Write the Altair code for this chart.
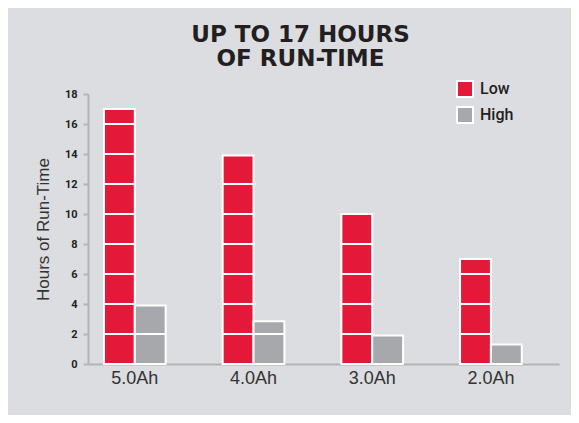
import altair as alt
import pandas as pd

categories = ["5.0Ah", "4.0Ah", "3.0Ah", "2.0Ah"]
low_hours = [17, 13.9, 10, 7]
high_hours = [3.9, 2.85, 1.9, 1.3]
levels = ["Low", "High"]
colors = ["#e4193a", "#a7a8ab"]
y_ticks = [0, 2, 4, 6, 8, 10, 12, 14, 16, 18]

rows = []
for cat, lo, hi in zip(categories, low_hours, high_hours):
    for level, v in (("Low", lo), ("High", hi)):
        s = 0.0
        while s < v - 1e-9:
            e = min(s + 2, v)
            rows.append({"battery": cat, "level": level, "y0": s, "y1": e})
            s = e
df = pd.DataFrame(rows)

bars = alt.Chart(df).mark_bar(stroke="white", strokeWidth=2).encode(
    x=alt.X(
        "battery:N",
        sort=categories,
        scale=alt.Scale(paddingInner=0.48, paddingOuter=0.224, align=0.3),
        axis=alt.Axis(
            title=None, labelAngle=0, ticks=False, labelFontSize=18,
            labelColor="#333333", labelFont="Liberation Sans", labelPadding=5,
            domainColor="#b3b4b6", domainWidth=2,
        ),
    ),
    xOffset=alt.XOffset("level:N", sort=levels,
                        scale=alt.Scale(paddingInner=0, paddingOuter=0)),
    y=alt.Y(
        "y0:Q",
        scale=alt.Scale(domain=[0, 18], nice=False),
        axis=alt.Axis(
            title="Hours of Run-Time", values=y_ticks, grid=False,
            titleFontSize=17, titleFont="Liberation Sans", titleFontWeight="normal",
            titleColor="#333333", titlePadding=12,
            labelFontSize=11, labelFont="Roboto", labelFontWeight="bold",
            labelColor="#231f20", labelPadding=6, tickSize=5,
            tickColor="#b3b4b6", tickWidth=2,
            domainColor="#b3b4b6", domainWidth=2,
        ),
    ),
    y2="y1:Q",
    color=alt.Color(
        "level:N",
        sort=levels,
        scale=alt.Scale(domain=levels, range=colors),
        legend=alt.Legend(
            title=None, orient="none", legendX=368, legendY=-14,
            symbolType="square", symbolSize=256, symbolStrokeColor="white",
            symbolStrokeWidth=2, symbolOpacity=1,
            labelFontSize=16, labelFont="Roboto", labelFontWeight=500,
            labelColor="#231f20", labelOffset=6, rowPadding=2,
        ),
    ),
).properties(
    width=471,
    height=270,
    title=alt.TitleParams(
        ["UP TO 17 HOURS", "OF RUN-TIME"],
        font="DejaVu Sans", fontSize=23, fontWeight="bold", color="#231f20",
        anchor="middle", lineHeight=24, offset=9, dx=-23,
    ),
    autosize=alt.AutoSizeParams(type="none"),
    padding={"left": 80, "top": 86, "right": 12, "bottom": 51},
).configure(
    background="#dcdde0",
).configure_view(
    stroke=None,
)

chart = bars
chart.save("out.html", embed_options={"renderer": "svg", "actions": False})
